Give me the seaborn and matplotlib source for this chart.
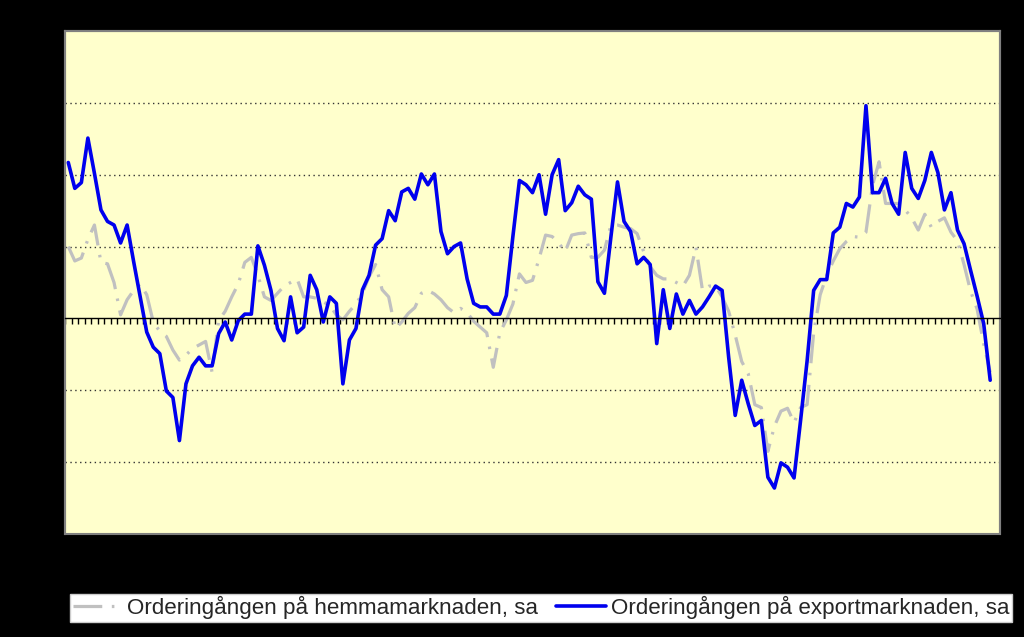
import numpy as np
import pandas as pd
import seaborn as sns
import matplotlib.pyplot as plt

# =============================================================================
# Data (one value per month)
# =============================================================================

label_home = "Orderingången på hemmamarknaden, sa"
label_export = "Orderingången på exportmarknaden, sa"

home = [
    10.0, 8.0, 8.4, 11.0, 13.0, 7.8, 7.6, 5.0, 0.5, 2.6,
    3.9, 4.8, 3.3, -0.5, -1.8, -2.5, -4.4, -5.8, -5.1, -4.2,
    -3.7, -3.2, -7.5, -0.3, 1.0, 3.0, 4.8, 7.8, 8.5, 6.0,
    3.0, 2.5, 3.5, 4.5, 5.0, 5.5, 3.0, 3.0, 2.8, 2.3,
    1.8, 0.5, -0.2, 1.0, 2.0, 3.5, 5.8, 7.5, 4.0, 3.0,
    -1.4, -0.5, 0.7, 1.5, 3.5, 3.9, 3.4, 2.6, 1.5, 0.8,
    1.4, 0.8, -0.4, -1.2, -2.0, -6.8, -2.0, -0.2, 2.0, 6.2,
    5.0, 5.3, 8.3, 11.6, 11.4, 10.5, 9.3, 11.6, 11.8, 11.9,
    8.5, 8.5, 9.5, 13.0, 13.0, 12.7, 12.5, 11.8, 9.3, 7.2,
    6.0, 5.5, 5.5, 5.0, 4.5, 6.0, 9.9, 3.9, 4.5, 4.5,
    3.0, 1.0, -2.3, -6.0, -7.7, -12.0, -12.4, -18.5, -15.0, -12.9,
    -12.5, -14.5, -12.4, -12.0, -2.0, 3.3, 6.0, 8.0, 9.7, 10.7,
    11.4, 11.3, 12.0, 18.5, 21.8, 16.0, 16.0, 16.0, 15.1, 14.0,
    12.3, 14.5, 12.7, 13.5, 14.0, 12.0, 10.8, 7.5, 3.8, 1.3,
    -3.5, -7.5,
]

export = [
    21.7, 18.1, 18.9, 25.1, 20.2, 15.1, 13.5, 13.0, 10.5, 13.0,
    7.9, 3.0, -1.9, -4.0, -4.9, -10.1, -11.0, -17.0, -9.1, -6.6,
    -5.4, -6.6, -6.6, -2.1, -0.5, -3.0, -0.3, 0.6, 0.6, 10.1,
    7.4, 3.9, -1.4, -3.1, 3.0, -2.0, -1.2, 6.0, 4.0, -0.5,
    3.0, 2.1, -9.1, -3.0, -1.4, 4.0, 6.0, 10.2, 11.1, 15.0,
    13.6, 17.6, 18.1, 16.6, 20.1, 18.6, 20.1, 12.1, 9.0, 10.0,
    10.5, 5.5, 2.1, 1.6, 1.6, 0.6, 0.6, 3.2, 11.4, 19.2,
    18.6, 17.5, 20.0, 14.5, 20.0, 22.1, 15.0, 16.1, 18.4, 17.2,
    16.6, 5.1, 3.5, 11.4, 19.0, 13.5, 12.1, 7.6, 8.5, 7.5,
    -3.5, 4.0, -1.4, 3.4, 0.6, 2.5, 0.6, 1.6, 3.0, 4.5,
    3.9, -5.4, -13.5, -8.6, -11.9, -14.9, -14.2, -22.1, -23.6, -20.1,
    -20.7, -22.2, -14.2, -5.9, 3.9, 5.4, 5.4, 11.9, 12.7, 16.0,
    15.5, 16.9, 29.6, 17.5, 17.5, 19.5, 16.0, 14.5, 23.1, 18.1,
    16.7, 19.2, 23.1, 20.3, 15.1, 17.5, 12.3, 10.4, 6.7, 3.1,
    -0.7, -8.6,
]

n_categories = 143   # last category is empty in the source chart
grid_levels = [-20, -10, 10, 20, 30]

df = pd.DataFrame({"month": np.arange(len(export)), "home": home, "export": export})

# =============================================================================
# Plot
# =============================================================================

sns.set_style("white")
plt.rcParams["font.family"] = ["Liberation Sans", "DejaVu Sans"]

fig = plt.figure(figsize=(10.24, 6.37), dpi=100, facecolor="black")
ax = fig.add_axes([65 / 1024, 1 - 534 / 637, 935 / 1024, 503 / 637])
ax.set_facecolor("#FFFFCC")

sns.lineplot(data=df, x="month", y="home", ax=ax, color="#C0C0C0",
             linewidth=2.3, label=label_home)
sns.lineplot(data=df, x="month", y="export", ax=ax, color="#0000EE",
             linewidth=2.6, label=label_export)
ax.get_lines()[0].set_dashes([9, 3, 0.8, 3])

ax.set_xlim(-0.5, n_categories - 0.5)
ax.set_ylim(-30, 40)

# dotted horizontal gridlines
for lvl in grid_levels:
    ax.axhline(lvl, color="#333333", linewidth=1.0, linestyle=(0, (1, 2.5)), zorder=1)

# category axis runs through zero with small tick marks
ax.spines["bottom"].set_position(("data", 0))
ax.spines["bottom"].set_color("black")
ax.spines["bottom"].set_linewidth(1.0)
ax.set_xticks(np.arange(-0.5, n_categories, 1))
ax.tick_params(axis="x", direction="out", length=4, width=1, color="black",
               labelbottom=False, bottom=True)
ax.set_yticks([])
ax.set_xlabel("")
ax.set_ylabel("")

for side in ["left", "top", "right"]:
    ax.spines[side].set_color("#808080")
    ax.spines[side].set_linewidth(1.5)
ax.patch.set_edgecolor("#808080")
ax.patch.set_linewidth(1.5)

ax.get_legend().remove()
handles = ax.get_lines()[:2]
leg = fig.legend(
    handles, [label_home, label_export],
    ncol=2, loc="lower left", bbox_to_anchor=(70 / 1024, 15 / 637),
    frameon=True, fancybox=False, edgecolor="#cccccc", facecolor="white",
    framealpha=1, fontsize=16.1, handlelength=2.2, handletextpad=0.25,
    columnspacing=0.8, borderpad=0.12, borderaxespad=0,
)
leg.get_frame().set_linewidth(1.0)

fig.savefig("out.png", dpi=100, facecolor="black")
